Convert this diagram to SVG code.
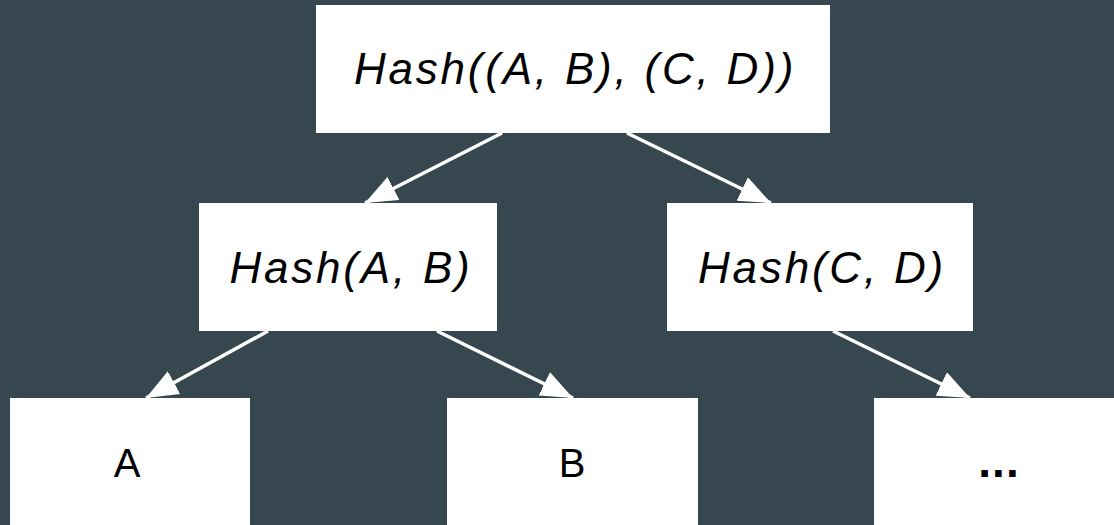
<svg xmlns="http://www.w3.org/2000/svg" width="1114" height="525" viewBox="0 0 1114 525">
<style>
.box{fill:#ffffff}
.t{font-family:"Liberation Sans",Arial,sans-serif;font-size:44px;fill:#000;text-anchor:middle}
.i{font-style:italic;letter-spacing:2.8px}
.l{font-size:40px}
.d{font-size:46px;font-weight:bold;letter-spacing:1px}
.c{stroke:#ffffff;stroke-width:3.5;fill:none}
</style>
<defs>
<marker id="ah" viewBox="0 0 32 26" refX="32" refY="13" markerWidth="32" markerHeight="26" markerUnits="userSpaceOnUse" orient="auto">
<path d="M0,0 L32,13 L0,26 Z" fill="#ffffff"/>
</marker>
</defs>
<rect width="1114" height="525" fill="#37474f"/>
<g id="connectors">
<line class="c" x1="502" y1="133" x2="365" y2="203" marker-end="url(#ah)"/>
<line class="c" x1="627" y1="133" x2="771" y2="203" marker-end="url(#ah)"/>
<line class="c" x1="268" y1="331" x2="146" y2="398" marker-end="url(#ah)"/>
<line class="c" x1="437" y1="331" x2="573" y2="398" marker-end="url(#ah)"/>
<line class="c" x1="833" y1="331" x2="970" y2="398" marker-end="url(#ah)"/>
</g>
<g id="root">
<rect class="box" x="316" y="5" width="514" height="128"/>
<text class="t i" x="575" y="84">Hash((A, B), (C, D))</text>
</g>
<g id="hashAB">
<rect class="box" x="199" y="203" width="298" height="128"/>
<text class="t i" x="351" y="283">Hash(A, B)</text>
</g>
<g id="hashCD">
<rect class="box" x="667" y="203" width="306" height="128"/>
<text class="t i" x="822" y="283">Hash(C, D)</text>
</g>
<g id="leafA">
<rect class="box" x="10" y="398" width="240" height="127"/>
<text class="t l" x="127" y="477">A</text>
</g>
<g id="leafB">
<rect class="box" x="447" y="398" width="251" height="127"/>
<text class="t l" x="572" y="477">B</text>
</g>
<g id="leafMore">
<rect class="box" x="874" y="398" width="240" height="127"/>
<text class="t d" x="999" y="477">...</text>
</g>
</svg>
